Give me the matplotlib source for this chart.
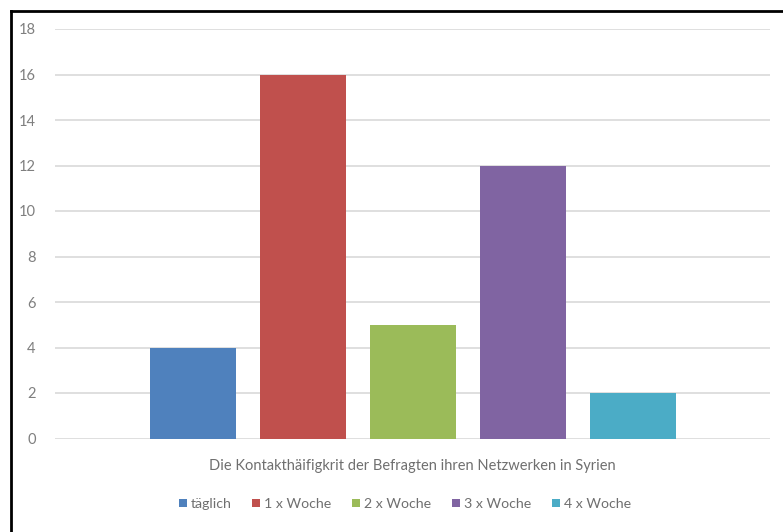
import matplotlib
matplotlib.use("Agg")
import matplotlib.pyplot as plt
from matplotlib.patches import Patch
from matplotlib.lines import Line2D

categories = ["täglich", "1 x Woche", "2 x Woche", "3 x Woche", "4 x Woche"]
values = [4, 16, 5, 12, 2]
colors = ["#4F81BD", "#C0504D", "#9BBB59", "#8064A2", "#4BACC6"]
yticks = [0, 2, 4, 6, 8, 10, 12, 14, 16, 18]
xlabel = "Die Kontakthäifigkrit der Befragten ihren Netzwerken in Syrien"

plt.rcParams['font.family'] = ['Lato', 'DejaVu Sans']

W, H = 783, 532
fig = plt.figure(figsize=(W / 100, H / 100), dpi=100)
ax = fig.add_axes([55 / W, (H - 438.5) / H, (770 - 55) / W, (438.5 - 29) / H])

xs = list(range(len(values)))
ax.bar(xs, values, width=86 / 110, color=colors, zorder=3)
ax.set_xlim(-1.25, 5.25)
ax.set_ylim(0, 18)
ax.set_yticks(yticks)
ax.set_xticks([])
ax.grid(axis='y', color='#D9D9D9', linewidth=1.2, zorder=0)
for s in ax.spines.values():
    s.set_visible(False)
ax.tick_params(axis='y', length=0, pad=14, labelsize=10.5, labelcolor='#7F7F7F')

fig.text(412 / W, 1 - 466 / H, xlabel, ha='center', va='center',
         fontsize=10.5, color='#6F6F6F')

handles = [Patch(facecolor=c, edgecolor='none') for c in colors]
fig.legend(handles, categories, loc='center', bbox_to_anchor=(405 / W, 1 - 504 / H),
           ncol=5, frameon=False, fontsize=10.2, handlelength=0.55, handleheight=0.55,
           handletextpad=0.3, columnspacing=1.45, labelcolor='#6F6F6F')

# outer border (left and top visible)
fig.add_artist(Line2D([10.5 / W, 10.5 / W], [0, 1 - 11 / H], transform=fig.transFigure,
                      color='black', linewidth=2))
fig.add_artist(Line2D([10.5 / W, 1], [1 - 11 / H, 1 - 11 / H], transform=fig.transFigure,
                      color='black', linewidth=2))

fig.savefig("out.png", dpi=100)
